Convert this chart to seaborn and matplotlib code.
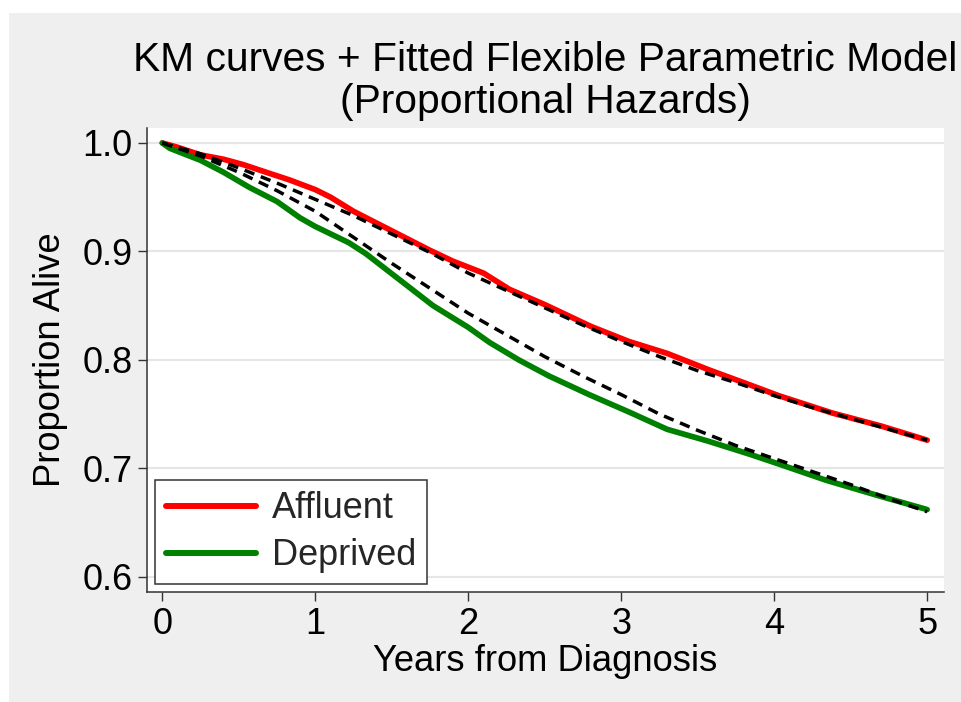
import numpy as np
import pandas as pd
import matplotlib
matplotlib.use("Agg")
import matplotlib.pyplot as plt
from matplotlib.patches import Rectangle
from matplotlib.lines import Line2D
import seaborn as sns

# ---- data ----
km_aff_years = [0, 0.1, 0.25, 0.4, 0.53, 0.7, 0.83, 1.0, 1.1, 1.25, 1.5, 1.75, 1.9,
                2.1, 2.27, 2.5, 2.8, 3.05, 3.3, 3.57, 3.84, 4.03, 4.38, 4.7, 5.0]
km_aff_surv = [1.000, 0.996, 0.989, 0.985, 0.980, 0.972, 0.966, 0.957, 0.950, 0.937,
               0.919, 0.901, 0.891, 0.880, 0.865, 0.851, 0.831, 0.817, 0.806, 0.791,
               0.777, 0.767, 0.751, 0.739, 0.726]

km_dep_years = [0, 0.05, 0.25, 0.4, 0.57, 0.75, 0.9, 1.0, 1.22, 1.33, 1.55, 1.77, 2.0,
                2.14, 2.33, 2.53, 2.79, 3.05, 3.3, 3.57, 3.84, 4.03, 4.34, 4.7, 5.0]
km_dep_surv = [1.000, 0.995, 0.984, 0.973, 0.959, 0.946, 0.931, 0.923, 0.908, 0.898,
               0.874, 0.850, 0.830, 0.816, 0.800, 0.785, 0.768, 0.752, 0.736, 0.725,
               0.713, 0.704, 0.689, 0.674, 0.662]

fit_years = [0, 0.25, 0.5, 0.75, 1.0, 1.25, 1.5, 1.75, 2.0, 2.25, 2.5, 2.75, 3.0,
             3.25, 3.5, 3.75, 4.0, 4.25, 4.5, 4.75, 5.0]
fit_aff_surv = [1.000, 0.990, 0.977, 0.963, 0.948, 0.933, 0.916, 0.899, 0.880, 0.864,
                0.848, 0.832, 0.817, 0.803, 0.790, 0.779, 0.767, 0.756, 0.746, 0.736, 0.726]
fit_dep_surv = [1.000, 0.988, 0.973, 0.956, 0.937, 0.913, 0.889, 0.866, 0.843, 0.823,
                0.803, 0.785, 0.768, 0.750, 0.735, 0.721, 0.709, 0.697, 0.685, 0.672, 0.660]

groups = ["Affluent", "Deprived"]
colors = {"Affluent": "#ff0000", "Deprived": "#008000"}

title_lines = ["KM curves + Fitted Flexible Parametric Model", "(Proportional Hazards)"]
x_label = "Years from Diagnosis"
y_label = "Proportion Alive"
x_ticks = [0, 1, 2, 3, 4, 5]
y_ticks = [0.6, 0.7, 0.8, 0.9, 1.0]
y_tick_labels = ["0.6", "0.7", "0.8", "0.9", "1.0"]

km_df = pd.concat([
    pd.DataFrame({"years": km_aff_years, "surv": km_aff_surv, "group": "Affluent"}),
    pd.DataFrame({"years": km_dep_years, "surv": km_dep_surv, "group": "Deprived"}),
], ignore_index=True)
fit_df = pd.concat([
    pd.DataFrame({"years": fit_years, "surv": fit_aff_surv, "group": "Affluent"}),
    pd.DataFrame({"years": fit_years, "surv": fit_dep_surv, "group": "Deprived"}),
], ignore_index=True)

# ---- style ----
sns.set_theme(style="white")
plt.rcParams["font.family"] = ["Liberation Sans", "DejaVu Sans"]

W, H = 962, 702
fig = plt.figure(figsize=(W / 100, H / 100), dpi=100)
fig.patch.set_facecolor("white")
fig.patches.append(Rectangle((9 / W, 0), 1 - 9 / W, 1 - 13 / H, transform=fig.transFigure,
                             facecolor="#efefef", edgecolor="none", zorder=-10))

ax_l, ax_r, ax_t, ax_b = 147, 944, 128, 592
ax = fig.add_axes([ax_l / W, 1 - ax_b / H, (ax_r - ax_l) / W, (ax_b - ax_t) / H])
ax.set_facecolor("white")

sns.lineplot(data=km_df, x="years", y="surv", hue="group", hue_order=groups,
             palette=colors, linewidth=4.1, ax=ax, legend=False, estimator=None,
             sort=False, solid_capstyle="round", solid_joinstyle="round")
for g in groups:
    sub = fit_df[fit_df["group"] == g]
    sns.lineplot(x=sub["years"].values, y=sub["surv"].values, color="black",
                 linewidth=2.5, linestyle=(0, (3.0, 2.0)), ax=ax, legend=False,
                 estimator=None, sort=False)

ax.set_xlim(-0.1, 5.11)
ax.set_ylim(0.586, 1.0138)
ax.set_xticks(x_ticks)
ax.set_xticklabels([str(t) for t in x_ticks])
ax.set_yticks(y_ticks)
ax.set_yticklabels(y_tick_labels)
ax.set_xlabel("")
ax.set_ylabel("")
ax.grid(axis="y", color="#e6e6e6", linewidth=1.5)
ax.grid(axis="x", visible=False)
ax.set_axisbelow(True)
for s in ["top", "right"]:
    ax.spines[s].set_visible(False)
for s in ["left", "bottom"]:
    ax.spines[s].set_color("#333333")
    ax.spines[s].set_linewidth(1.1)
ax.tick_params(axis="both", which="major", direction="out", length=6.5, width=1.0,
               color="#333333", labelsize=26, pad=4, labelcolor="black",
               left=True, bottom=True)

# legend
handles = [Line2D([0], [0], color=colors[g], linewidth=4.3) for g in groups]
leg = ax.legend(handles, groups, loc="lower left",
                bbox_to_anchor=(8 / (ax_r - ax_l), 8 / (ax_b - ax_t)),
                borderaxespad=0, fontsize=26, frameon=True, fancybox=False,
                handlelength=2.5, handletextpad=0.45, labelspacing=0.33,
                borderpad=0.3)
leg.get_frame().set_edgecolor("#333333")
leg.get_frame().set_linewidth(1.1)
leg.get_frame().set_facecolor("white")
leg.get_frame().set_alpha(1)

# titles and labels
cx = (ax_l + ax_r) / 2 / W
fig.text(cx, 1 - 71 / H, title_lines[0], ha="center", va="baseline", fontsize=29.3, color="black")
fig.text(cx, 1 - 113 / H, title_lines[1], ha="center", va="baseline", fontsize=29.3, color="black")
fig.text(cx, 1 - 671 / H, x_label, ha="center", va="baseline", fontsize=26.2, color="black")
fig.text(50 / W, 1 - (ax_t + ax_b) / 2 / H, y_label, ha="center", va="center",
         rotation=90, fontsize=26.2, color="black")

fig.savefig("out.png", dpi=100)
